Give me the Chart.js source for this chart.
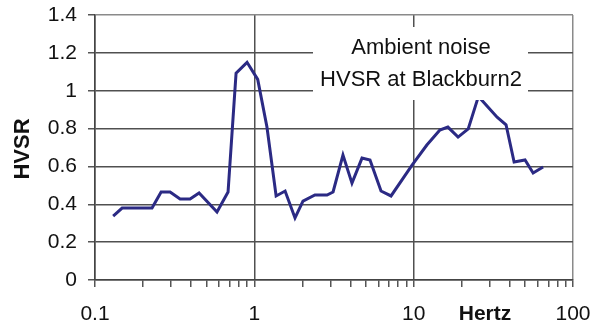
<!DOCTYPE html>
<html>
<head>
<meta charset="utf-8">
<script src="https://cdn.jsdelivr.net/npm/chart.js@4"></script>
<style>
html,body{margin:0;padding:0;background:#fff;}
#wrap{width:594px;height:323px;position:relative;}
</style>
</head>
<body>
<div id="wrap"><canvas id="c" width="594" height="323"></canvas></div>
<script>
const freqs = [0.130, 0.148, 0.228, 0.260, 0.296, 0.342, 0.395, 0.45, 0.583, 0.684, 0.768, 0.90, 1.05, 1.20, 1.37, 1.56, 1.80, 2.02, 2.40, 2.86, 3.12, 3.6, 4.1, 4.74, 5.32, 6.24, 7.21, 9.77, 12.1, 14.6, 16.4, 19.0, 22.0, 25.5, 33.4, 38.0, 42.7, 50.0, 56.2, 64.9];
const hvsr  = [0.338, 0.38, 0.38, 0.465, 0.465, 0.428, 0.428, 0.46, 0.359, 0.465, 1.093, 1.15, 1.06, 0.808, 0.444, 0.47, 0.328, 0.417, 0.449, 0.449, 0.465, 0.66, 0.512, 0.644, 0.634, 0.47, 0.444, 0.607, 0.713, 0.792, 0.808, 0.755, 0.798, 0.97, 0.86, 0.82, 0.623, 0.634, 0.565, 0.597];
const xTickValues = [0.1,0.2,0.3,0.4,0.5,0.6,0.7,0.8,0.9,1,2,3,4,5,6,7,8,9,10,20,30,40,50,60,70,80,90,100];
const xMajor = [0.1, 1, 10, 100];
const xMajorLabels = ["0.1", "1", "10", "100"];
const yTicks = [0, 0.2, 0.4, 0.6, 0.8, 1, 1.2, 1.4];
const yLabels = ["0", "0.2", "0.4", "0.6", "0.8", "1", "1.2", "1.4"];
const titleLines = ["Ambient noise", "HVSR at Blackburn2"];
const xTitle = "Hertz";
const yTitle = "HVSR";

const FONT = "'Liberation Sans', Arial, sans-serif";
const isMajor = v => xMajor.some(m => Math.abs(m - v) < 1e-9);

const overlay = {
  id: 'overlay',
  afterDraw(chart) {
    const ctx = chart.ctx;
    const a = chart.chartArea;
    ctx.save();
    ctx.fillStyle = '#ffffff';
    const bx = a.left + 218, by = a.top + 12, bw = 215, bh = 73;
    ctx.fillRect(bx, by, bw, bh);
    ctx.fillStyle = '#111111';
    ctx.font = "22px " + FONT;
    ctx.textAlign = 'center';
    ctx.textBaseline = 'middle';
    ctx.fillText(titleLines[0], bx + 108, by + 21);
    ctx.fillText(titleLines[1], bx + 108, by + 53);
    ctx.font = "bold 21px " + FONT;
    ctx.fillText(xTitle, 485, 314);
    ctx.translate(23, 149);
    ctx.rotate(-Math.PI / 2);
    ctx.font = "bold 22px " + FONT;
    ctx.fillText(yTitle, 0, 0);
    ctx.restore();
  }
};

new Chart(document.getElementById('c'), {
  type: 'line',
  data: {
    datasets: [{
      data: freqs.map((f, i) => ({x: f, y: hvsr[i]})),
      borderColor: '#2b2a84',
      borderWidth: 3,
      pointRadius: 0,
      tension: 0,
      fill: false
    }]
  },
  options: {
    responsive: false,
    animation: false,
    devicePixelRatio: 1,
    layout: {padding: {top: 15, right: 21, left: 0, bottom: 0}},
    plugins: {legend: {display: false}, tooltip: {enabled: false}},
    scales: {
      x: {
        type: 'logarithmic',
        min: 0.1, max: 100,
        afterBuildTicks: s => { s.ticks = xTickValues.map(v => ({value: v, major: isMajor(v)})); },
        afterFit: s => { s.height = 43; s.paddingLeft = 0; s.paddingRight = 0; s.paddingTop = 0; s.paddingBottom = 0; },
        ticks: {
          autoSkip: false, maxRotation: 0, padding: 15,
          color: '#111', font: {size: 21, family: FONT},
          callback: v => { const i = xMajor.findIndex(m => Math.abs(m - v) < 1e-9); return i >= 0 ? xMajorLabels[i] : ''; }
        },
        grid: {
          drawOnChartArea: true, tickLength: 7,
          color: ctx => (ctx.tick && isMajor(ctx.tick.value)) ? (ctx.tick.value === 100 ? '#8a8a8a' : '#505050') : 'rgba(0,0,0,0)',
          tickColor: '#555', lineWidth: 1.5
        },
        border: {display: true, color: '#444', width: 1.5}
      },
      y: {
        min: 0, max: 1.4,
        afterBuildTicks: s => { s.ticks = yTicks.map(v => ({value: v})); },
        afterFit: s => { s.width = 95; s.paddingLeft = 0; s.paddingRight = 0; s.paddingTop = 0; s.paddingBottom = 0; },
        ticks: {
          padding: 11, color: '#111', font: {size: 21, family: FONT},
          callback: v => { const i = yTicks.findIndex(t => Math.abs(t - v) < 1e-9); return i >= 0 ? yLabels[i] : ''; }
        },
        grid: {
          tickLength: 7,
          color: ctx => (ctx.tick && ctx.tick.value === 1.4) ? '#8a8a8a' : '#505050',
          tickColor: '#555', lineWidth: 1.5
        },
        border: {display: true, color: '#444', width: 1.5}
      }
    }
  },
  plugins: [overlay]
});
</script>
</body>
</html>
